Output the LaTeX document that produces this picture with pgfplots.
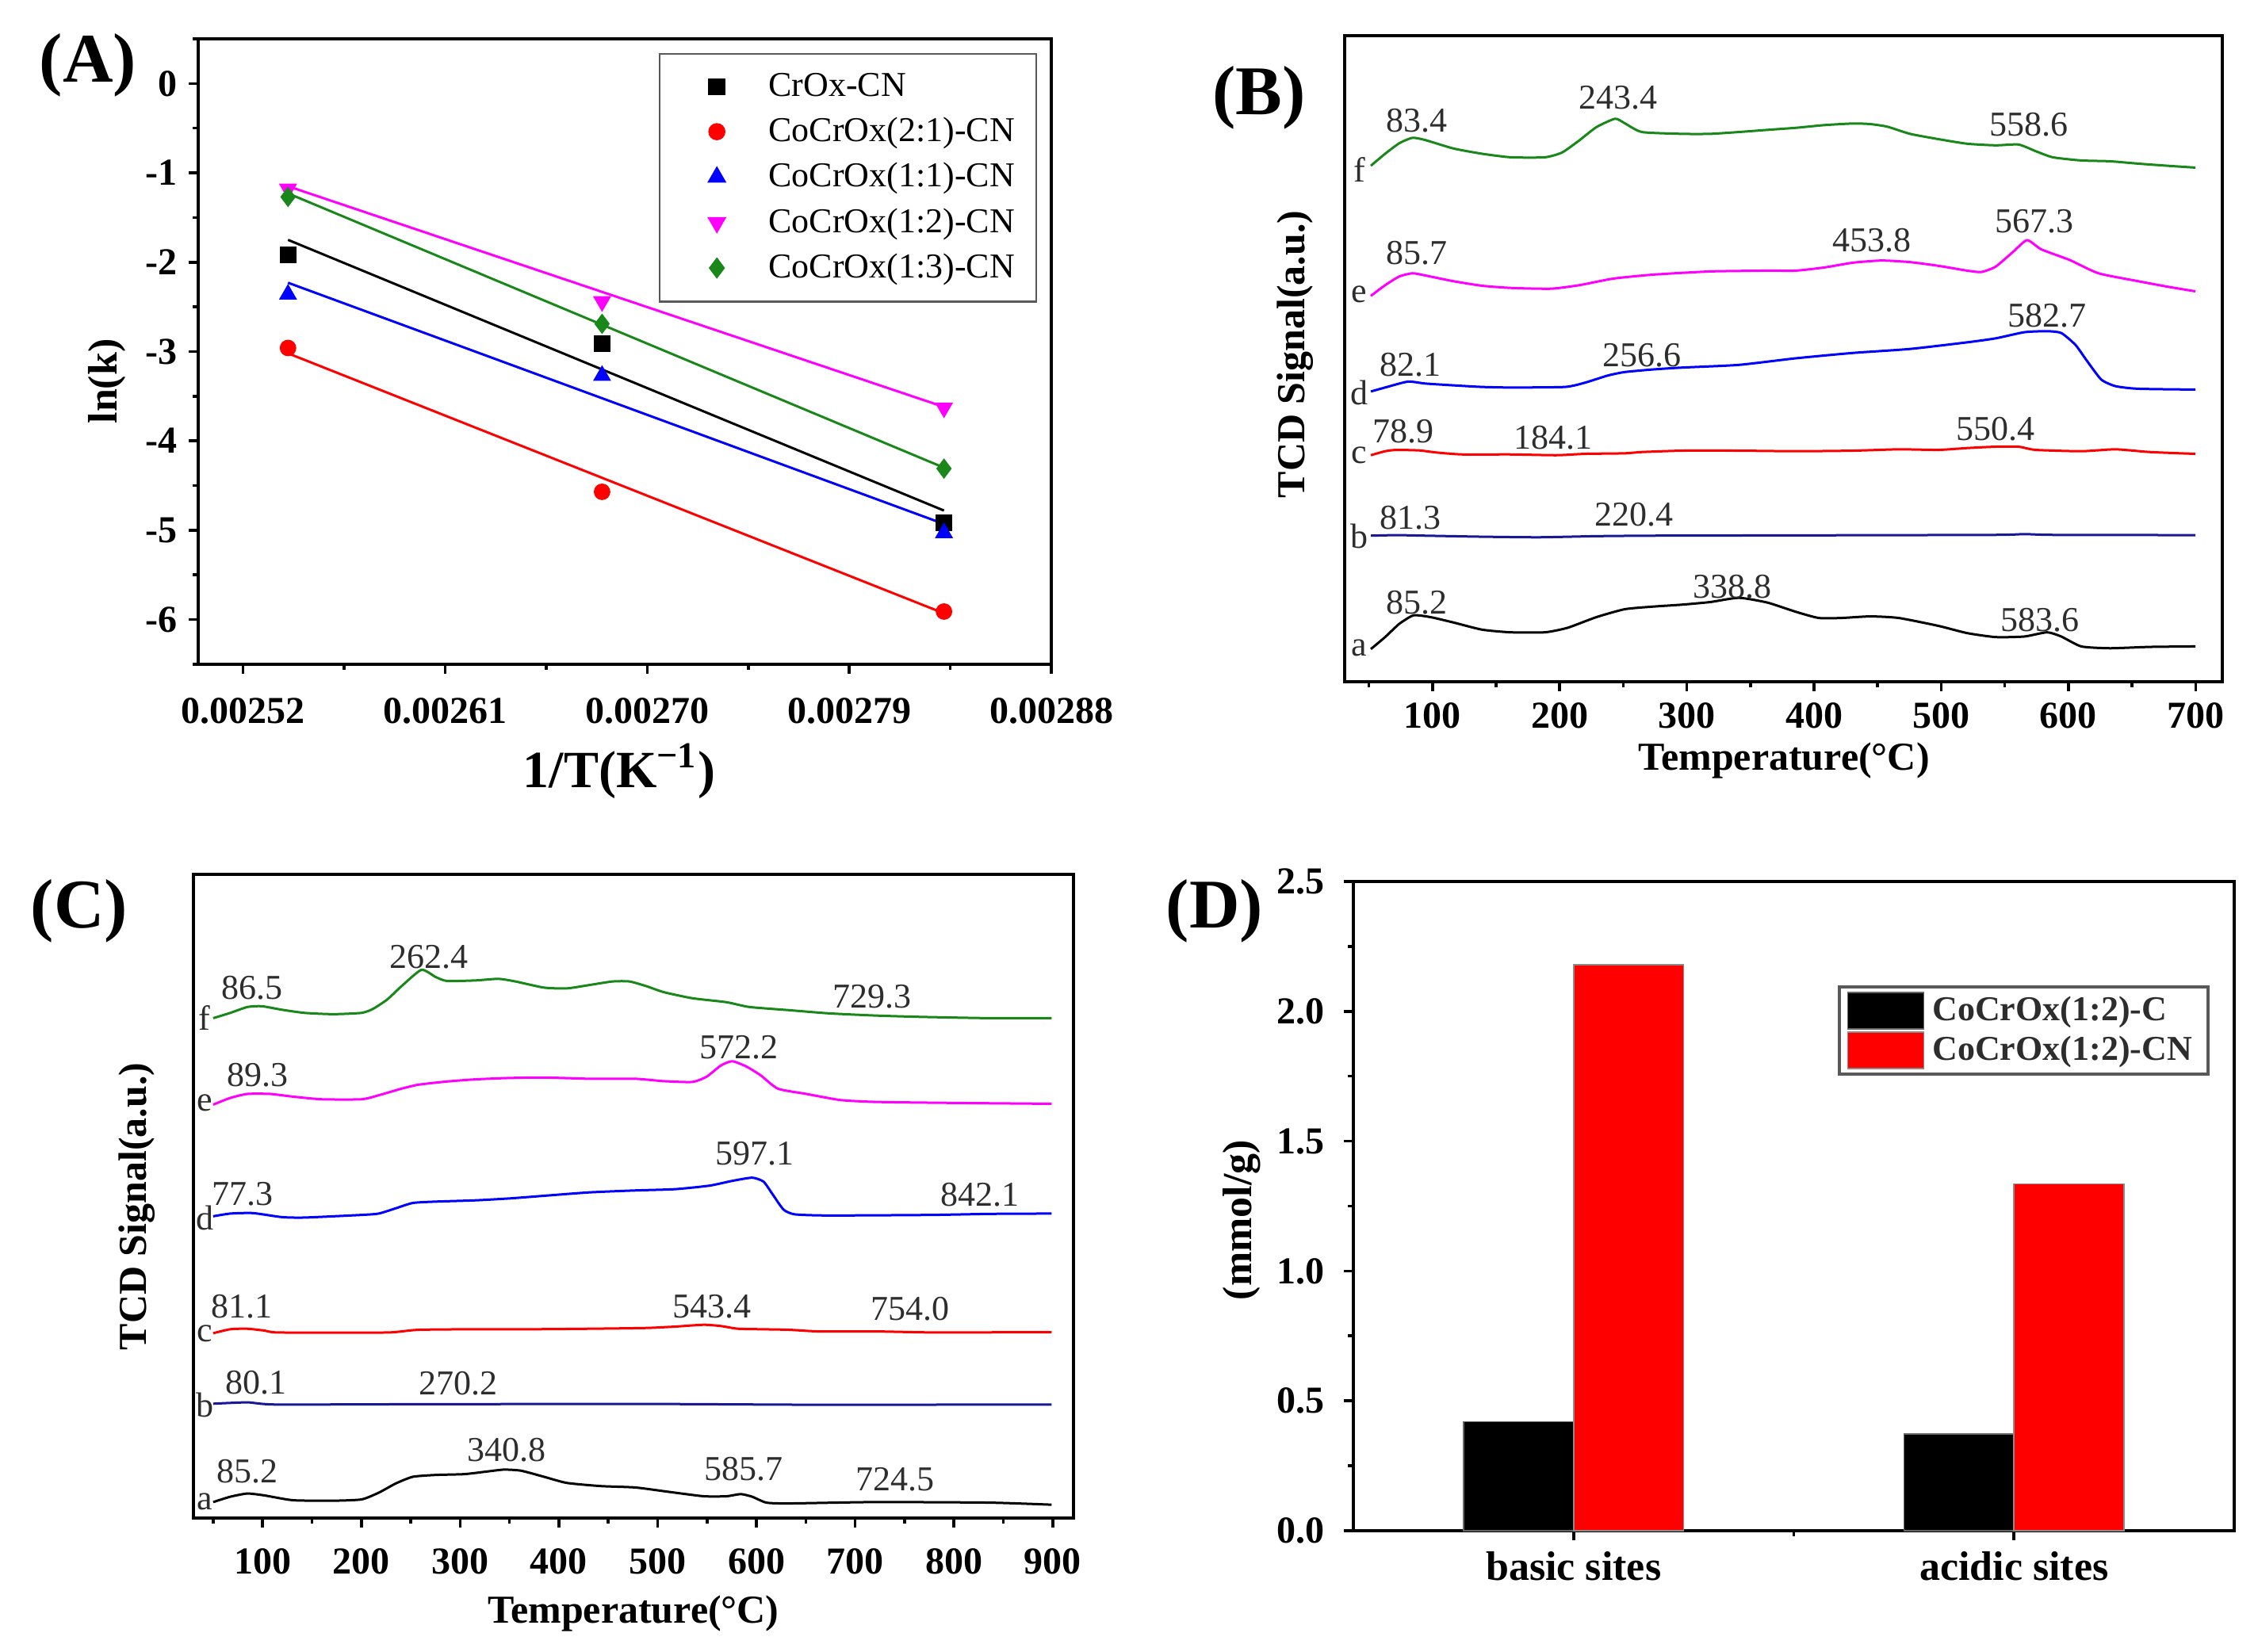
\documentclass[border=0pt]{standalone}
\usepackage{fontspec}
\setmainfont{Liberation Serif}
\usepackage{pgfplots}
\pgfplotsset{compat=1.18}
\definecolor{ogreen}{RGB}{25,135,25}
\definecolor{navyb}{RGB}{25,25,150}
\definecolor{mag}{RGB}{255,0,255}
\definecolor{lbl}{RGB}{45,45,45}
\newcommand{\ticfont}{\bfseries\fontsize{12}{14}\selectfont}
\newcommand{\pk}{\fontsize{11}{12}\selectfont}
\pgfplotsset{
  pnl/.style={scale only axis, anchor=south west,
    axis line style={line width=1.1pt},
    tick style={line width=0.9pt, black},
    tick align=outside, xtick pos=bottom, ytick pos=left,
    major tick length=3pt, minor tick length=1.8pt,
    /pgf/number format/assume math mode=true,
    tick label style={font=\ticfont},
    clip=false},
  crv/.style={line width=0.75pt, line join=round, smooth, tension=0.35}
}
\begin{document}
\begin{tikzpicture}
\useasboundingbox (0,0) rectangle (712pt,521pt);

%================ Panel A =================
\begin{axis}[pnl, at={(62.5pt,311.5pt)}, width=269pt, height=197.25pt,
  xmin=0.0025, xmax=0.00288, ymin=-6.5, ymax=0.5,
  scaled x ticks=false,
  xtick={0.00252,0.00261,0.0027,0.00279,0.00288},
  xticklabels={0.00252,0.00261,0.00270,0.00279,0.00288},
  minor xtick={0.002565,0.002655,0.002745,0.002835},
  ytick={-6,-5,-4,-3,-2,-1,0},
  yticklabels={-6,-5,-4,-3,-2,-1,0},
  minor ytick={-6.5,-5.5,-4.5,-3.5,-2.5,-1.5,-0.5,0.5},
  xticklabel style={yshift=-4pt},
  legend cell align=left,
  legend image code/.code={\path (-13pt,0pt) (14pt,0pt); \draw[#1, only marks] plot coordinates {(0pt,0pt)};},
  legend style={at={(0.9833,0.9775)}, anchor=north east, draw=black!65, line width=0.6pt,
    font=\fontsize{11}{12}\selectfont, row sep=1.2pt, inner xsep=4.75pt, inner ysep=4pt,
    nodes={inner xsep=2pt}},
  mark size=2.4pt]
\addplot[only marks, mark=square*, black] coordinates {(0.00254,-1.92) (0.0026799,-2.91) (0.0028322,-4.92)};
\addlegendentry{CrOx-CN}
\addplot[only marks, mark=*, red] coordinates {(0.00254,-2.96) (0.0026799,-4.57) (0.0028322,-5.91)};
\addlegendentry{CoCrOx(2:1)-CN}
\addplot[only marks, mark=triangle*, blue, mark size=2.9pt] coordinates {(0.00254,-2.36) (0.0026799,-3.27) (0.0028322,-5.03)};
\addlegendentry{CoCrOx(1:1)-CN}
\addplot[only marks, mark=triangle*, mag, mark size=2.9pt, mark options={rotate=180}] coordinates {(0.00254,-1.18) (0.0026799,-2.44) (0.0028322,-3.63)};
\addlegendentry{CoCrOx(1:2)-CN}
\addplot[only marks, mark=diamond*, ogreen, mark size=2.9pt] coordinates {(0.00254,-1.27) (0.0026799,-2.69) (0.0028322,-4.31)};
\addlegendentry{CoCrOx(1:3)-CN}
\addplot[forget plot, black, line width=0.75pt] coordinates {(0.00254,-1.75) (0.0028322,-4.78)};
\addplot[forget plot, red, line width=0.75pt] coordinates {(0.00254,-3.02) (0.0028322,-5.93)};
\addplot[forget plot, blue, line width=0.75pt] coordinates {(0.00254,-2.23) (0.0028322,-4.93)};
\addplot[forget plot, mag, line width=0.75pt] coordinates {(0.00254,-1.15) (0.0028322,-3.62)};
\addplot[forget plot, ogreen, line width=0.75pt] coordinates {(0.00254,-1.23) (0.0028322,-4.30)};
\end{axis}

%================ Panel B =================
\begin{axis}[pnl, at={(424pt,306pt)}, width=276.75pt, height=203.75pt,
  xmin=31, xmax=721, ymin=1228, ymax=2039,
  xtick={100,200,...,700}, minor xtick={50,150,...,650}, ytick=\empty,
  xticklabel style={yshift=0pt}]
\addplot[crv, ogreen] coordinates {(51.6,1875.7)(62.8,1890.7)(74.0,1904)(84.3,1910.7)(94.2,1908)(116.6,1897.3)(139.1,1890.7)(161.5,1886.3)(188.4,1886.3)(201.9,1892.3)(215.3,1907.3)(228.8,1924)(243.6,1934.7)(251.2,1929)(264.7,1918)(296.1,1915.7)(318.5,1915.7)(340.9,1918)(363.4,1920.7)(385.8,1923.3)(408.2,1926.7)(430.7,1928.7)(444.1,1928)(457.6,1924.7)(475.5,1915.7)(498.0,1909)(520.4,1903.3)(542.8,1901.3)(560.8,1902.3)(574.2,1894)(587.7,1886.3)(610.1,1882.3)(632.6,1881.3)(655.0,1878.3)(677.4,1875.7)(699.9,1873.3)};
\addplot[crv, mag] coordinates {(51.6,1712.3)(62.8,1725.7)(74.0,1736.7)(84.3,1740.7)(94.2,1738)(116.6,1730.7)(139.1,1725)(161.5,1722.3)(192.9,1721.3)(215.3,1725.7)(242.2,1734)(273.6,1739)(318.5,1743)(363.4,1744)(385.8,1744)(408.2,1748)(430.7,1754)(453.1,1756.7)(475.5,1754.7)(498.0,1750)(520.4,1744)(531.6,1742.3)(542.8,1749)(556.3,1767.3)(567.5,1782.3)(578.7,1770.7)(601.1,1757.3)(623.6,1740.7)(655.0,1730.7)(677.4,1724)(699.9,1718)};
\addplot[crv, blue] coordinates {(51.6,1592.3)(62.8,1597.3)(80.7,1604.7)(94.2,1602.3)(116.6,1600)(139.1,1598)(161.5,1597.3)(204.1,1598)(219.8,1603.3)(237.8,1612.3)(251.2,1616.7)(273.6,1620)(296.1,1622.3)(340.9,1625.7)(385.8,1634)(430.7,1640.7)(475.5,1645.7)(520.4,1654)(542.8,1659)(565.3,1666.7)(583.2,1668)(594.4,1665.7)(605.6,1650.7)(614.6,1630.7)(625.8,1607.3)(637.0,1599)(655.0,1595.7)(699.9,1594.7)};
\addplot[crv, red] coordinates {(51.6,1512.3)(62.8,1517.3)(71.8,1519)(89.7,1518.3)(103.2,1515.7)(123.4,1513.3)(161.5,1513.3)(197.4,1512.3)(219.8,1514)(251.2,1514.7)(264.7,1516.3)(296.1,1518)(340.9,1518)(385.8,1517.3)(430.7,1518)(466.6,1519.7)(498.0,1519)(520.4,1521.3)(542.8,1523)(560.8,1523)(574.2,1519)(610.1,1517.3)(637.0,1519.7)(664.0,1516.3)(699.9,1514)};
\addplot[crv, navyb] coordinates {(51.6,1411.3)(71.8,1412)(94.2,1411.3)(139.1,1410)(183.9,1409.3)(228.8,1410.7)(273.6,1411.3)(385.8,1411.7)(542.8,1412.3)(565.3,1413.3)(587.7,1412.3)(699.9,1412)};
\addplot[crv, black] coordinates {(51.6,1269)(62.8,1284)(74.0,1300.7)(85.2,1311.3)(98.7,1309)(116.6,1302.3)(139.1,1293.3)(161.5,1290)(188.4,1290)(206.3,1295.7)(228.8,1309)(251.2,1319)(273.6,1322.3)(296.1,1324.7)(318.5,1328)(340.9,1333.3)(363.4,1327.3)(385.8,1315.7)(403.7,1308)(421.7,1308)(444.1,1310)(466.6,1308)(498.0,1298)(520.4,1289)(542.8,1284)(565.3,1284.7)(583.2,1290)(594.4,1284.7)(610.1,1272.3)(632.6,1270)(664.0,1271.7)(699.9,1272.3)};
\begin{scope}[every node/.style={font=\pk, text=lbl, inner sep=0pt}]
\node at (axis cs:42.6,1870.7) {f};
\node at (axis cs:42.6,1714) {e};
\node at (axis cs:42.6,1590.7) {d};
\node at (axis cs:42.6,1512) {c};
\node at (axis cs:42.6,1410.7) {b};
\node at (axis cs:42.6,1270.7) {a};
\node at (axis cs:87.5,1932.3) {83.4};
\node at (axis cs:245.8,1960.7) {243.4};
\node at (axis cs:568.8,1927.3) {558.6};
\node at (axis cs:87.5,1765.7) {85.7};
\node at (axis cs:445.5,1782.3) {453.8};
\node at (axis cs:573.3,1805.7) {567.3};
\node at (axis cs:83,1625.7) {82.1};
\node at (axis cs:264.7,1637.3) {256.6};
\node at (axis cs:583.2,1687.3) {582.7};
\node at (axis cs:77.1,1542.3) {78.9};
\node at (axis cs:195.1,1534.7) {184.1};
\node at (axis cs:542.8,1545.7) {550.4};
\node at (axis cs:83,1434) {81.3};
\node at (axis cs:258.8,1437.3) {220.4};
\node at (axis cs:87.5,1327.3) {85.2};
\node at (axis cs:335.6,1347.3) {338.8};
\node at (axis cs:577.8,1305.7) {583.6};
\end{scope}
\end{axis}

%================ Panel C =================
\begin{axis}[pnl, at={(61pt,42.25pt)}, width=277.5pt, height=203pt,
  xmin=30, xmax=921, ymin=174, ymax=981,
  xtick={100,200,...,900}, minor xtick={50,150,...,850}, ytick=\empty,
  xticklabel style={yshift=-3pt}]
\addplot[crv, ogreen] coordinates {(50.0,800.7)(67.3,807.3)(84.6,814.7)(99.1,815.7)(119.3,811.3)(142.4,807.3)(171.3,805.7)(200.1,807.3)(211.7,812.3)(226.1,824)(240.6,840.7)(260.8,861.3)(275.2,852.3)(286.7,847.3)(315.6,848)(338.7,850)(356.0,846.7)(384.9,839)(408.0,838)(431.1,842.3)(454.2,846.7)(471.5,846.7)(488.8,840.7)(506.2,833.3)(535.0,825.7)(569.7,820.7)(592.8,814.7)(633.2,810.7)(673.6,806.7)(719.8,804)(766.0,802.3)(835.3,800.7)(898.8,800.7)};
\addplot[crv, mag] coordinates {(50.0,692.3)(67.3,700.7)(84.6,705.7)(107.7,705.7)(130.8,702.3)(159.7,699)(200.1,699)(217.5,704)(240.6,712.3)(257.9,717.3)(286.7,721.3)(315.6,724)(350.3,725.7)(384.9,726.3)(431.1,724.7)(477.3,724.7)(506.2,721.7)(535.0,720.7)(549.5,727.3)(563.9,741.3)(575.5,746.7)(589.9,740)(604.3,729)(621.7,712.3)(650.5,705.7)(685.2,698)(719.8,695.7)(777.6,694.7)(898.8,693.3)};
\addplot[crv, blue] coordinates {(50.0,552.3)(67.3,555.7)(90.4,556.3)(119.3,551.3)(142.4,550.7)(200.1,554)(217.5,555.7)(234.8,562.3)(252.1,569)(275.2,570.7)(315.6,572.3)(350.3,574.7)(384.9,578)(431.1,582.3)(477.3,584.7)(517.7,586.3)(552.4,590.7)(575.5,596.7)(595.7,600.7)(607.2,595.7)(615.9,580.7)(627.4,560.7)(639.0,554.7)(673.6,553.3)(777.6,554)(835.3,555.3)(898.8,555.7)};
\addplot[crv, red] coordinates {(50.0,405.7)(67.3,410.7)(84.6,411.3)(102.0,409)(113.5,406.7)(171.3,406.3)(229.0,406.7)(257.9,410)(315.6,410.7)(373.4,410.7)(431.1,411.3)(488.8,412.3)(517.7,414)(546.6,416.3)(563.9,414.7)(581.2,411.3)(604.3,410.7)(633.2,410)(662.1,408)(719.8,408)(777.6,406.7)(898.8,407)};
\addplot[crv, navyb] coordinates {(50,317.3)(84.6,319)(113.5,316.3)(257.9,316.7)(488.8,317)(662.1,316)(898.8,316.3)};
\addplot[crv, black] coordinates {(50.0,194)(67.3,200.7)(84.6,204.7)(102.0,202.3)(130.8,196.3)(171.3,195.7)(200.1,197.3)(217.5,205.7)(234.8,217.3)(252.1,225.7)(275.2,228)(304.1,229)(327.2,232.3)(344.5,234.7)(361.8,233.3)(384.9,225.7)(408.0,218)(442.7,214)(477.3,212.3)(511.9,206.7)(546.6,201.3)(569.7,201.3)(584.1,204)(595.7,200.7)(610.1,193.3)(633.2,192.3)(719.8,194)(835.3,193.3)(898.8,190.7)};
\begin{scope}[every node/.style={font=\pk, text=lbl, inner sep=0pt}]
\node at (axis cs:41.3,800.7) {f};
\node at (axis cs:41.3,694) {e};
\node at (axis cs:41.3,550.7) {d};
\node at (axis cs:41.3,405.7) {c};
\node at (axis cs:41.3,315.7) {b};
\node at (axis cs:41.3,194) {a};
\node at (axis cs:89.3,839) {86.5};
\node at (axis cs:268.3,877.3) {262.4};
\node at (axis cs:717,827.3) {729.3};
\node at (axis cs:95,729) {89.3};
\node at (axis cs:582.4,764) {572.2};
\node at (axis cs:80,580.7) {77.3};
\node at (axis cs:598.6,630.7) {597.1};
\node at (axis cs:826.6,579) {842.1};
\node at (axis cs:78.9,439) {81.1};
\node at (axis cs:555.2,439) {543.4};
\node at (axis cs:755.6,435.7) {754.0};
\node at (axis cs:93.3,344) {80.1};
\node at (axis cs:298.3,342.3) {270.2};
\node at (axis cs:84.6,232.3) {85.2};
\node at (axis cs:347.4,259) {340.8};
\node at (axis cs:587,235.7) {585.7};
\node at (axis cs:740,222.3) {724.5};
\end{scope}
\end{axis}

%================ Panel D =================
\begin{axis}[pnl, at={(426.75pt,38.25pt)}, width=277.75pt, height=204.75pt,
  xmin=0.5, xmax=2.5, ymin=0, ymax=2.5,
  ybar=0pt, bar width=34.7pt,
  xtick={1,2}, xticklabels={basic sites, acidic sites}, minor xtick={1.5},
  ytick={0,0.5,1,1.5,2,2.5}, yticklabels={0.0,0.5,1.0,1.5,2.0,2.5},
  minor ytick={0.25,0.75,1.25,1.75,2.25},
  xticklabel style={font=\bfseries\fontsize{13}{15}\selectfont, yshift=0pt},
  yticklabel style={xshift=-2.5pt},
  legend cell align=left,
  legend image code/.code={\draw[#1] (0pt,-5.8pt) rectangle (24pt,5.8pt);},
  legend style={at={(0.972,0.84)}, anchor=north east, draw=black!65, line width=1pt,
    font=\bfseries\fontsize{11}{12}\selectfont, text=lbl, row sep=0.5pt,
    inner xsep=2.5pt, inner ysep=1.5pt, nodes={inner xsep=2.5pt, inner ysep=1pt}}]
\addplot[fill=black, draw=black!60, line width=0.4pt] coordinates {(1,0.42) (2,0.373)};
\addlegendentry{CoCrOx(1:2)-C}
\addplot[fill=red, draw=black!45, line width=0.4pt] coordinates {(1,2.18) (2,1.336)};
\addlegendentry{CoCrOx(1:2)-CN}
\end{axis}

%================ Labels =================
\begin{scope}[every node/.style={font=\bfseries}]
\node[font=\bfseries\fontsize{22}{24}\selectfont] at (27.75pt,500.5pt) {(A)};
\node[font=\bfseries\fontsize{22}{24}\selectfont] at (397pt,490.25pt) {(B)};
\node[font=\bfseries\fontsize{22}{24}\selectfont] at (25pt,233.75pt) {(C)};
\node[font=\bfseries\fontsize{22}{24}\selectfont] at (383pt,233.75pt) {(D)};
\node[font=\bfseries\fontsize{13}{15}\selectfont, rotate=90] at (33.75pt,400.75pt) {ln(k)};
\node[font=\bfseries\fontsize{16.5}{18}\selectfont] at (195.25pt,277.75pt) {1/T(K\textsuperscript{−1})};
\node[font=\bfseries\fontsize{12.5}{14}\selectfont, rotate=90] at (408.5pt,409.25pt) {TCD Signal(a.u.)};
\node[font=\bfseries\fontsize{12.5}{14}\selectfont] at (562.5pt,281pt) {Temperature(°C)};
\node[font=\bfseries\fontsize{12.5}{14}\selectfont, rotate=90] at (43.25pt,140.5pt) {TCD Signal(a.u.)};
\node[font=\bfseries\fontsize{12.5}{14}\selectfont] at (199.75pt,12.25pt) {Temperature(°C)};
\node[font=\bfseries\fontsize{13}{15}\selectfont, rotate=90] at (391.5pt,136.25pt) {(mmol/g)};
\end{scope}
\end{tikzpicture}
\end{document}
